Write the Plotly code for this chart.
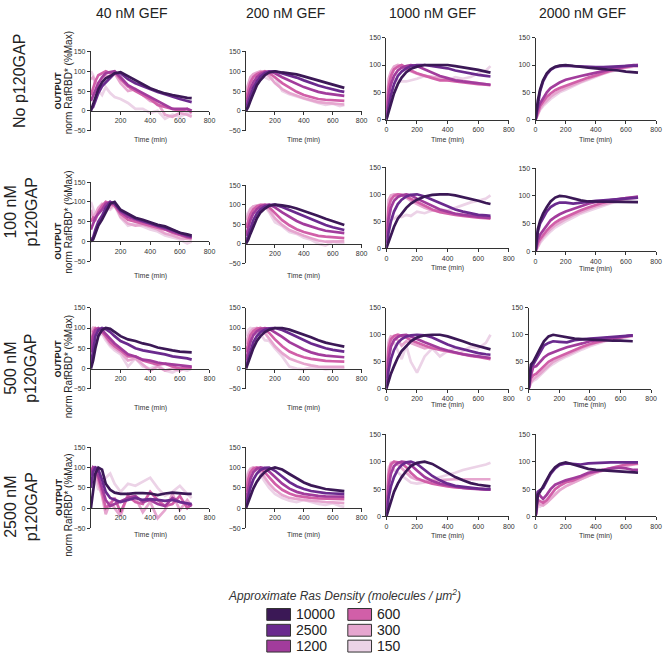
import plotly.graph_objects as go

W, H = 669, 658

# ---------------- data ----------------
TIME = [0, 15, 30, 50, 75, 100, 130, 160, 200, 250, 300, 350, 400, 450, 500, 550, 600, 650, 680]
DENSITIES = ["10000", "2500", "1200", "600", "300", "150"]
COLORS = ["#3b1856", "#6a2a8e", "#a23c9c", "#d15fa8", "#e6a6cf", "#ecd3e7"]
GEF_LABELS = ["40 nM GEF", "200 nM GEF", "1000 nM GEF", "2000 nM GEF"]
GAP_LABELS = ["No p120GAP", "100 nM<br>p120GAP", "500 nM<br>p120GAP", "2500 nM<br>p120GAP"]
X_TICKS_SHORT = [200, 400, 600, 800]
X_TICKS_FULL = [0, 200, 400, 600, 800]
Y_TICKS_NEG = [-50, 0, 50, 100, 150]
Y_TICKS_POS = [0, 50, 100, 150]
X_TITLE = "Time (min)"
Y_TITLE_TOP = "<b>OUTPUT</b>"
Y_TITLE_BOTTOM = "norm RafRBD* (%Max)"
LEGEND_TITLE = "<i>Approximate Ras Density (molecules / μm<sup>2</sup>)</i>"

# each panel: series in DENSITIES order, values at TIME
R1C1 = [
    [0, 15, 35, 55, 72, 82, 88, 95, 98, 88, 78, 68, 57, 50, 44, 40, 36, 33, 32],
    [5, 10, 25, 45, 62, 72, 84, 95, 95, 80, 70, 62, 55, 48, 42, 35, 30, 25, 22],
    [25, 40, 55, 70, 85, 95, 98, 100, 85, 65, 55, 45, 35, 25, 15, 5, 5, 5, 0],
    [40, 60, 75, 90, 95, 100, 95, 98, 80, 62, 50, 40, 30, 15, 10, 5, 0, 5, -5],
    [80, 85, 75, 65, 80, 90, 85, 95, 70, 50, 55, 40, 25, 20, -10, -15, -5, -10, -15],
    [100, 90, 60, 50, 40, 60, 45, 35, 30, 20, 5, 5, -5, 0, -20, -10, -15, -5, -10],
]
R1C2 = [
    [0, 10, 25, 45, 65, 78, 90, 97, 100, 97, 95, 92, 87, 82, 77, 71, 66, 61, 58],
    [5, 20, 38, 58, 75, 87, 95, 99, 100, 95, 90, 84, 77, 70, 64, 59, 54, 50, 48],
    [15, 35, 55, 72, 85, 93, 98, 100, 95, 85, 76, 68, 60, 54, 48, 44, 41, 39, 38],
    [30, 55, 72, 85, 93, 97, 100, 95, 85, 70, 58, 48, 40, 35, 30, 28, 27, 26, 25],
    [50, 70, 85, 93, 97, 100, 95, 88, 70, 55, 45, 38, 32, 27, 22, 20, 18, 17, 16],
    [20, 65, 80, 90, 95, 93, 85, 80, 85, 50, 42, 36, 30, 25, 20, 15, 18, 12, 15],
]
R1C3 = [
    [0, 15, 30, 48, 65, 77, 87, 93, 97, 100, 100, 100, 100, 98, 96, 94, 91, 88, 86],
    [0, 25, 45, 65, 80, 88, 94, 98, 100, 100, 98, 96, 94, 90, 87, 84, 82, 80, 79],
    [5, 45, 65, 80, 90, 95, 98, 100, 98, 92, 86, 80, 76, 72, 70, 68, 66, 65, 64],
    [10, 60, 80, 92, 97, 100, 95, 90, 85, 80, 76, 72, 72, 70, 68, 66, 65, 64, 63],
    [20, 75, 88, 97, 100, 98, 92, 88, 84, 80, 78, 76, 74, 72, 70, 68, 66, 65, 64],
    [30, 70, 80, 75, 72, 70, 70, 72, 75, 80, 78, 75, 72, 78, 75, 78, 85, 90, 98],
]
R1C4 = [
    [0, 35, 55, 72, 85, 92, 97, 99, 100, 98, 96, 95, 94, 93, 91, 90, 88, 87, 86],
    [0, 30, 52, 70, 83, 91, 96, 98, 99, 98, 97, 96, 96, 96, 97, 98, 99, 99, 99],
    [0, 20, 30, 40, 50, 58, 63, 68, 73, 77, 80, 83, 86, 90, 93, 96, 98, 100, 100],
    [0, 15, 25, 33, 42, 48, 54, 58, 62, 68, 72, 77, 81, 86, 90, 94, 97, 99, 100],
    [0, 12, 20, 28, 36, 42, 48, 53, 58, 64, 70, 75, 80, 85, 89, 93, 96, 98, 98],
    [0, 10, 18, 25, 32, 38, 44, 50, 55, 62, 68, 73, 79, 84, 88, 92, 95, 97, 97],
]
R2C1 = [
    [0, 5, 20, 40, 55, 75, 95, 100, 80, 70, 60, 55, 48, 42, 38, 30, 22, 18, 15],
    [5, 10, 30, 50, 65, 85, 100, 95, 78, 68, 58, 52, 45, 40, 35, 28, 20, 15, 12],
    [30, 45, 60, 70, 80, 95, 100, 95, 75, 62, 55, 50, 45, 38, 32, 25, 18, 12, 10],
    [50, 60, 55, 75, 90, 100, 95, 90, 70, 55, 50, 45, 40, 35, 30, 22, 15, 10, 8],
    [80, 60, 70, 85, 95, 90, 85, 95, 62, 45, 40, 42, 35, 30, 20, 15, 8, 5, 5],
    [100, 80, 65, 80, 90, 85, 80, 90, 60, 40, 45, 38, 30, 25, 15, 10, 5, -5, 0],
]
R2C2 = [
    [0, 10, 25, 45, 65, 80, 90, 97, 100, 98, 95, 90, 84, 78, 71, 64, 58, 52, 48],
    [5, 20, 40, 60, 77, 88, 95, 99, 100, 94, 86, 78, 70, 62, 55, 48, 42, 38, 35],
    [20, 40, 60, 77, 88, 95, 99, 100, 93, 80, 68, 58, 50, 43, 38, 33, 30, 28, 27],
    [40, 60, 75, 88, 95, 99, 100, 93, 78, 60, 47, 37, 30, 25, 20, 18, 16, 15, 14],
    [60, 75, 88, 95, 98, 100, 97, 85, 65, 48, 35, 27, 20, 14, 8, 5, 5, 5, 6],
    [70, 80, 90, 95, 98, 97, 95, 80, 55, 45, 30, 25, 15, 10, 0, -5, 5, 0, 3],
]
R2C3 = [
    [0, 12, 25, 40, 55, 65, 75, 83, 90, 96, 99, 100, 100, 98, 95, 92, 88, 84, 82],
    [0, 30, 50, 68, 82, 90, 96, 99, 100, 96, 90, 84, 78, 72, 68, 65, 62, 61, 60],
    [10, 55, 75, 88, 95, 98, 100, 98, 92, 85, 78, 72, 68, 64, 62, 60, 58, 57, 57],
    [20, 75, 90, 97, 100, 99, 96, 92, 86, 79, 72, 67, 64, 62, 60, 58, 57, 56, 55],
    [30, 90, 98, 100, 100, 98, 94, 88, 82, 75, 70, 68, 66, 64, 62, 60, 59, 58, 57],
    [40, 60, 58, 55, 60, 58, 62, 60, 68, 65, 70, 72, 70, 75, 80, 85, 88, 92, 98],
]
R2C4 = [
    [0, 40, 55, 68, 80, 90, 97, 100, 99, 95, 92, 90, 90, 90, 90, 89, 89, 89, 89],
    [0, 35, 50, 60, 72, 80, 85, 88, 88, 86, 88, 90, 91, 92, 93, 94, 95, 96, 97],
    [0, 20, 30, 38, 48, 56, 62, 67, 72, 77, 82, 86, 89, 91, 93, 95, 96, 98, 99],
    [0, 15, 22, 30, 38, 45, 52, 57, 62, 68, 74, 79, 84, 88, 91, 94, 96, 97, 98],
    [0, 10, 18, 26, 34, 40, 47, 52, 58, 65, 71, 76, 81, 85, 89, 92, 95, 97, 98],
    [0, 8, 15, 22, 30, 36, 43, 48, 54, 61, 68, 73, 78, 83, 87, 90, 93, 96, 97],
]
R3C1 = [
    [0, 20, 50, 80, 95, 100, 98, 90, 80, 72, 68, 62, 58, 52, 48, 45, 42, 40, 40],
    [10, 50, 80, 95, 100, 97, 90, 80, 68, 60, 50, 45, 42, 38, 35, 30, 28, 25, 22],
    [40, 80, 95, 100, 95, 85, 75, 62, 50, 35, 30, 22, 20, 15, 12, 10, 8, 5, 5],
    [60, 90, 100, 95, 90, 80, 65, 55, 45, 30, 30, 20, 15, 10, 12, 5, 0, 3, 2],
    [90, 100, 95, 85, 90, 75, 60, 50, 40, 20, 25, 10, -5, 5, -5, 0, -5, 5, 3],
    [100, 95, 90, 80, 85, 70, 55, 45, 35, 5, 25, 5, 0, 10, -5, -10, 0, -5, 0],
]
R3C2 = [
    [0, 15, 30, 50, 68, 80, 90, 96, 100, 100, 96, 90, 84, 77, 70, 64, 60, 56, 54],
    [5, 25, 45, 65, 80, 90, 96, 99, 100, 95, 87, 78, 70, 62, 56, 50, 46, 43, 42],
    [20, 45, 65, 82, 92, 97, 100, 98, 90, 78, 65, 55, 47, 40, 35, 32, 30, 29, 28],
    [40, 65, 82, 92, 98, 100, 96, 88, 72, 55, 42, 34, 28, 24, 21, 19, 18, 17, 17],
    [60, 80, 92, 98, 100, 96, 88, 75, 55, 38, 25, 18, 12, 8, 5, 4, 4, 4, 4],
    [80, 95, 100, 98, 90, 85, 70, 68, 50, 30, 5, 0, -2, 3, 2, -2, 0, 2, 0],
]
R3C3 = [
    [0, 15, 28, 42, 58, 70, 80, 88, 95, 99, 100, 100, 97, 93, 88, 83, 79, 75, 73],
    [0, 35, 55, 72, 85, 92, 97, 99, 100, 99, 95, 88, 82, 77, 73, 69, 66, 64, 63],
    [10, 55, 78, 90, 96, 99, 100, 97, 92, 86, 80, 75, 71, 67, 64, 62, 60, 58, 57],
    [20, 75, 92, 98, 100, 98, 95, 90, 85, 80, 75, 72, 70, 67, 64, 61, 59, 57, 55],
    [30, 85, 97, 95, 90, 80, 88, 85, 80, 75, 78, 72, 70, 68, 65, 62, 60, 58, 57],
    [40, 90, 98, 85, 70, 55, 80, 50, 30, 60, 75, 60, 70, 75, 70, 78, 75, 85, 100],
]
R3C4 = [
    [0, 45, 50, 60, 75, 88, 97, 100, 98, 95, 93, 92, 91, 90, 90, 89, 89, 88, 88],
    [0, 40, 45, 55, 70, 80, 85, 88, 87, 86, 90, 92, 93, 94, 95, 96, 97, 98, 99],
    [0, 25, 40, 42, 50, 58, 64, 68, 72, 77, 80, 84, 88, 90, 92, 94, 96, 98, 99],
    [0, 20, 25, 28, 35, 42, 50, 55, 60, 67, 73, 78, 83, 87, 90, 93, 96, 98, 99],
    [0, 12, 18, 22, 28, 35, 43, 50, 56, 63, 70, 76, 81, 86, 89, 92, 95, 97, 98],
    [0, 10, 15, 18, 25, 32, 40, 46, 53, 60, 67, 73, 79, 84, 88, 91, 94, 96, 97],
]
R4C1 = [
    [0, 40, 85, 100, 95, 60, 45, 38, 35, 35, 37, 37, 36, 32, 36, 38, 36, 35, 35],
    [50, 90, 100, 95, 70, 40, 25, 20, 15, 20, 25, 20, 22, 20, 18, 20, 15, 12, 10],
    [80, 100, 95, 80, 50, 20, 5, 10, 15, 25, 30, 15, 20, 10, 5, 25, 15, 10, 5],
    [90, 100, 100, 75, 40, 0, 10, 25, -10, 30, 15, 10, 40, 20, 5, 10, 30, 0, 10],
    [100, 95, 90, 60, 30, -15, 15, 0, -20, 35, 25, -10, 15, -25, -5, 35, -5, 20, 5],
    [90, 100, 70, 45, 55, 75, 85, 60, 40, 60, 55, 65, 75, 50, 30, 40, 55, 35, 25],
]
R4C2 = [
    [0, 15, 30, 48, 65, 78, 89, 96, 100, 95, 84, 73, 63, 56, 51, 47, 45, 43, 42],
    [5, 30, 50, 70, 85, 94, 99, 100, 92, 78, 64, 54, 47, 42, 39, 37, 36, 35, 35],
    [20, 50, 72, 88, 97, 100, 98, 90, 76, 60, 48, 40, 35, 32, 30, 29, 28, 28, 28],
    [40, 70, 88, 97, 100, 97, 88, 75, 60, 45, 36, 30, 27, 25, 24, 23, 22, 22, 22],
    [60, 85, 96, 100, 98, 90, 75, 60, 45, 32, 25, 22, 20, 18, 16, 15, 14, 13, 12],
    [70, 90, 98, 100, 95, 80, 65, 50, 35, 25, 18, 15, 20, 15, 10, 8, 12, 5, 3],
]
R4C3 = [
    [0, 15, 30, 45, 60, 72, 83, 92, 98, 100, 96, 88, 80, 72, 66, 61, 58, 56, 55],
    [0, 35, 55, 72, 86, 94, 99, 100, 96, 85, 74, 66, 60, 56, 54, 52, 51, 50, 50],
    [5, 55, 78, 92, 98, 100, 99, 94, 84, 72, 65, 60, 57, 54, 52, 51, 50, 49, 49],
    [10, 75, 95, 100, 99, 97, 90, 80, 70, 64, 60, 57, 55, 53, 52, 51, 50, 49, 49],
    [20, 85, 98, 100, 95, 88, 80, 72, 67, 65, 66, 67, 68, 68, 68, 68, 68, 68, 68],
    [30, 90, 95, 85, 80, 75, 68, 62, 60, 62, 68, 72, 75, 80, 85, 88, 92, 95, 98],
]
R4C4 = [
    [0, 40, 45, 55, 68, 80, 90, 96, 99, 95, 90, 87, 85, 84, 83, 82, 81, 80, 80],
    [0, 45, 48, 52, 65, 78, 88, 94, 97, 96, 95, 97, 98, 98, 99, 99, 99, 99, 99],
    [0, 45, 38, 32, 40, 50, 58, 62, 66, 70, 74, 80, 82, 85, 88, 89, 88, 85, 85],
    [0, 30, 28, 25, 30, 40, 50, 56, 62, 66, 72, 78, 82, 85, 88, 92, 95, 96, 97],
    [0, 25, 22, 20, 25, 32, 40, 48, 55, 62, 68, 74, 80, 84, 87, 90, 93, 95, 96],
    [0, 20, 18, 22, 28, 35, 42, 48, 55, 62, 68, 74, 80, 85, 88, 92, 95, 97, 98],
]

PANELS = [
    [R1C1, R1C2, R1C3, R1C4],
    [R2C1, R2C2, R2C3, R2C4],
    [R3C1, R3C2, R3C3, R3C4],
    [R4C1, R4C2, R4C3, R4C4],
]

# ---------------- layout (pixel geometry) ----------------
COL_PX = [
    [(90, 210), (247, 364), (389, 513), (540, 662)],
    [(90, 210), (247, 364), (389, 513), (540, 662)],
    [(90, 210), (247, 364), (389, 513), (533, 657)],
    [(90, 210), (247, 364), (389, 513), (540, 662)],
]
ROW_PX = [
    [(48, 128), (48, 128), (34, 117), (34, 117)],
    [(180, 260), (183, 262), (165, 247), (166, 250)],
    [(307, 389), (307, 389), (307, 389), (307, 389)],
    [(448, 530), (448, 530), (435, 518), (435, 518)],
]
TIME_TITLE_Y = [
    [137, 137, 137, 137],
    [275, 275, 267, 268],
    [408, 408, 405, 405],
    [537, 537, 538, 538],
]
YTITLE_Y = [(87, 80), (239, 221), (358, 367), (498, 507)]
ROW_LABEL_Y = [78, 210, 368, 508]
COL_TITLE_X = [132, 287, 436, 588]

FONT = "Arial, 'Liberation Sans', sans-serif"
AX_COL = "#333333"


def px(x):
    return x / W


def py(y):
    return 1 - y / H


fig = go.Figure()
layout = dict(
    width=W, height=H, margin=dict(l=0, r=0, t=0, b=0),
    paper_bgcolor="white", plot_bgcolor="rgba(0,0,0,0)",
    showlegend=False, font=dict(family=FONT, color="#222"),
)
annotations = []
shapes = []

k = 0
for r in range(4):
    for c in range(4):
        k += 1
        xa = "x" if k == 1 else f"x{k}"
        ya = "y" if k == 1 else f"y{k}"
        xkey = "xaxis" if k == 1 else f"xaxis{k}"
        ykey = "yaxis" if k == 1 else f"yaxis{k}"
        (x0, x1) = COL_PX[r][c]
        (y0, y1) = ROW_PX[r][c]
        neg = c < 2
        yrange = [-50, 150] if neg else [0, 150]
        common = dict(showgrid=False, zeroline=False, showline=True, linecolor=AX_COL,
                      linewidth=1, ticks="outside", ticklen=3, tickwidth=1, tickcolor=AX_COL,
                      tickfont=dict(size=7, color="#333", family=FONT))
        xaxis = dict(domain=[px(x0), px(x1)], range=[0, 800],
                     tickvals=X_TICKS_SHORT if neg else X_TICKS_FULL, **common)
        if neg:
            zero_px = y0 + (150 - 0) / 200 * (y1 - y0)
            xaxis.update(anchor="free", position=py(zero_px))
        else:
            xaxis.update(anchor=ya)
        yaxis = dict(domain=[py(y1), py(y0)], range=yrange, anchor=xa,
                     tickvals=Y_TICKS_NEG if neg else Y_TICKS_POS, **common)
        layout[xkey] = xaxis
        layout[ykey] = yaxis

        data = PANELS[r][c]
        for i in range(len(DENSITIES) - 1, -1, -1):
            fig.add_trace(go.Scatter(
                x=TIME, y=data[i], mode="lines", name=DENSITIES[i],
                line=dict(color=COLORS[i], width=2.7), xaxis=xa, yaxis=ya,
                hoverinfo="skip"))

        annotations.append(dict(text=X_TITLE, x=px((x0 + x1) / 2), y=py(TIME_TITLE_Y[r][c]),
                                xref="paper", yref="paper", showarrow=False,
                                font=dict(size=7, color="#333"), xanchor="center", yanchor="middle"))

for c in range(4):
    annotations.append(dict(text=GEF_LABELS[c], x=px(COL_TITLE_X[c]), y=py(9), xref="paper", yref="paper",
                            showarrow=False, font=dict(size=14, color="#222"), xanchor="center", yanchor="middle"))
for r in range(4):
    annotations.append(dict(text=GAP_LABELS[r], x=px(17 if r == 0 else 19), y=py(ROW_LABEL_Y[r]),
                            xref="paper", yref="paper",
                            showarrow=False, textangle=-90, font=dict(size=16, color="#222"),
                            xanchor="center", yanchor="middle"))
    annotations.append(dict(text=Y_TITLE_TOP, x=px(57), y=py(YTITLE_Y[r][0]), xref="paper", yref="paper",
                            showarrow=False, textangle=-90, font=dict(size=9, color="#222"),
                            xanchor="center", yanchor="middle"))
    annotations.append(dict(text=Y_TITLE_BOTTOM, x=px(67), y=py(YTITLE_Y[r][1]), xref="paper", yref="paper",
                            showarrow=False, textangle=-90, font=dict(size=10, color="#222"),
                            xanchor="center", yanchor="middle"))

annotations.append(dict(text=LEGEND_TITLE, x=px(347), y=py(597), xref="paper", yref="paper", showarrow=False,
                        font=dict(size=12, color="#333", family=FONT), xanchor="center", yanchor="middle"))
LEG_COLS_X = [268, 350]
LEG_ROWS_Y = [617, 633, 649]
for i, d in enumerate(DENSITIES):
    col = i // 3
    row = i % 3
    sx = LEG_COLS_X[col]
    sy = LEG_ROWS_Y[row]
    shapes.append(dict(type="rect", xref="paper", yref="paper",
                       x0=px(sx), x1=px(sx + 24), y0=py(sy + 6), y1=py(sy - 6),
                       fillcolor=COLORS[i], line=dict(color="#333", width=1)))
    annotations.append(dict(text=d, x=px(sx + 28), y=py(sy), xref="paper", yref="paper", showarrow=False,
                            font=dict(size=14, color="#222"), xanchor="left", yanchor="middle"))

layout["annotations"] = annotations
layout["shapes"] = shapes
fig.update_layout(**layout)
fig.write_html("out.html", config={"displayModeBar": False},
               post_script="document.body.style.margin='0';document.body.style.padding='0';"
                           "document.documentElement.style.overflow='hidden';")
